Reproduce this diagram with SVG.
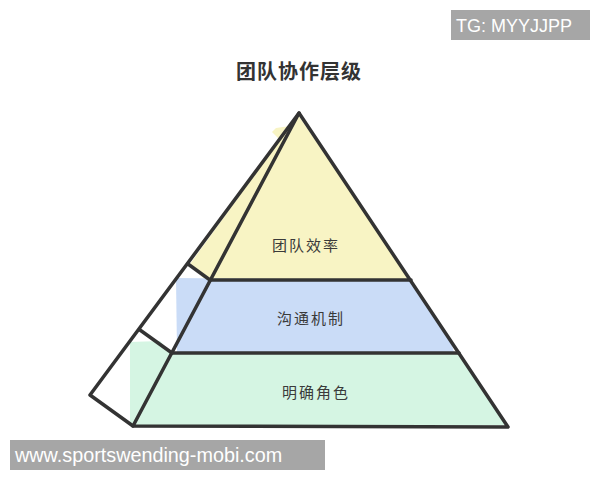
<svg xmlns="http://www.w3.org/2000/svg" width="600" height="480" viewBox="0 0 600 480">
<style>
.edge{fill:none;stroke:#333;stroke-width:3.5;stroke-linejoin:round;stroke-linecap:round}
.lbl{font-family:"Noto Sans CJK SC","Liberation Sans",sans-serif;font-size:15px;fill:#3a3a3a;text-anchor:middle;letter-spacing:2px}
.wm{font-family:"Liberation Sans","DejaVu Sans",sans-serif;fill:#fff}
</style>
<rect width="600" height="480" fill="#fff"/>
<g id="watermark-top">
<rect x="451" y="10" width="139" height="30" fill="#a6a6a6"/>
<text class="wm" x="456" y="32" font-size="18">TG: MYYJJPP</text>
</g>
<g id="title">
<text x="299" y="79" font-family="'Noto Sans CJK SC',sans-serif" font-size="20" font-weight="bold" fill="#333" text-anchor="middle" letter-spacing="1">团队协作层级</text>
</g>
<g id="layer-top">
<polygon points="298,115 412,281 206,281 190,264 280,140 272,132 276,128 290,126" fill="#f8f4c4"/>
<text class="lbl" x="306" y="251">团队效率</text>
</g>
<g id="layer-middle">
<polygon points="176,278 411,280 452,345 455,356 177,352" fill="#cadcf7"/>
<text class="lbl" x="311" y="324">沟通机制</text>
</g>
<g id="layer-bottom">
<polygon points="130,342 160,341 172,354 459,354 506,425 133,427 130,424" fill="#d5f5e3"/>
<text class="lbl" x="316" y="398">明确角色</text>
</g>
<g id="outline">
<polygon class="edge" points="299,113 508,427 133,426"/>
<polyline class="edge" points="299,113 90,395 133,426"/>
<line class="edge" x1="210" y1="280" x2="411" y2="280"/>
<line class="edge" x1="172" y1="353" x2="459" y2="353"/>
<line class="edge" x1="188" y1="264" x2="210" y2="280"/>
<line class="edge" x1="140" y1="330" x2="172" y2="353"/>
</g>
<g id="watermark-bottom">
<rect x="10" y="440" width="315" height="30" fill="#a6a6a6"/>
<text class="wm" x="15" y="462" font-size="19.8">www.sportswending-mobi.com</text>
</g>
</svg>
